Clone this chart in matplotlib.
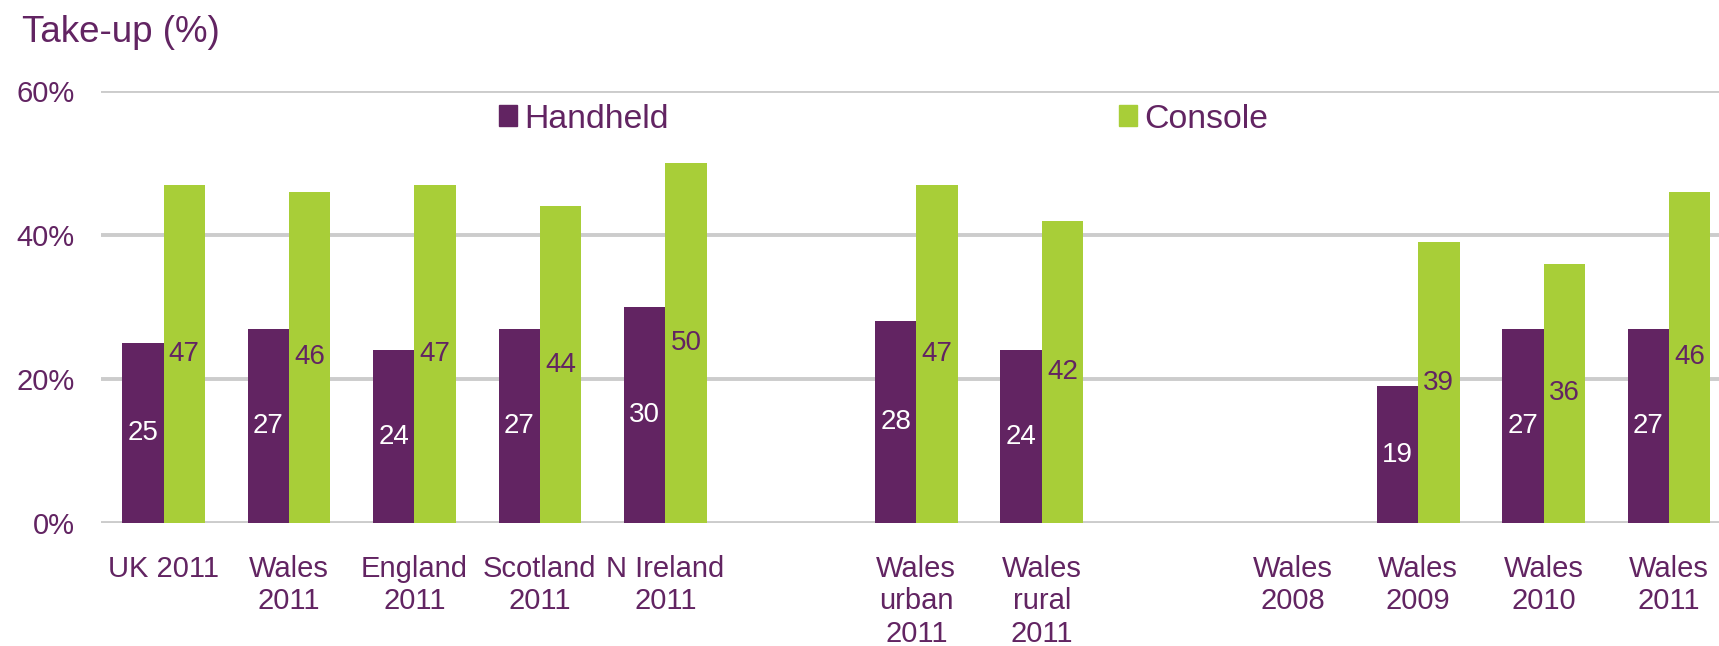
import numpy as np
import matplotlib.pyplot as plt
from matplotlib.patches import Patch

plt.rcParams["font.family"] = ["Liberation Sans", "DejaVu Sans"]

categories = ["UK 2011", "Wales\n2011", "England\n2011", "Scotland\n2011", "N Ireland\n2011", "",
              "Wales\nurban\n2011", "Wales\nrural\n2011", "",
              "Wales\n2008", "Wales\n2009", "Wales\n2010", "Wales\n2011"]
handheld = [25, 27, 24, 27, 30, np.nan, 28, 24, np.nan, np.nan, 19, 27, 27]
console = [47, 46, 47, 44, 50, np.nan, 47, 42, np.nan, np.nan, 39, 36, 46]
yticks = [0, 20, 40, 60]

PURPLE = "#622462"
GREEN = "#A8CE38"
GRID = "#CCCCCC"

W, H = 1719, 646
fig = plt.figure(figsize=(W / 100, H / 100), dpi=100)
ax = fig.add_axes([100.8 / W, (H - 523) / H, 1631 / W, 432 / H])

x = np.arange(len(categories))
bw = 0.33
b1 = ax.bar(x - bw / 2, handheld, bw, color=PURPLE, zorder=3)
b2 = ax.bar(x + bw / 2, console, bw, color=GREEN, zorder=3)

def fmt(vals):
    return ["" if np.isnan(v) else f"{v:.0f}" for v in vals]

ax.bar_label(b1, labels=fmt(handheld), label_type="center", color="white", fontsize=20)
ax.bar_label(b2, labels=fmt(console), label_type="center", color=PURPLE, fontsize=20)

ax.set_xlim(-0.5, len(categories) - 0.5)
ax.set_ylim(0, 60)
ax.set_yticks(yticks)
ax.set_yticklabels([f"{t}%" for t in yticks])
ax.set_xticks(x)
ax.set_xticklabels(categories, linespacing=1.2)
ax.tick_params(axis="both", length=0, labelsize=21, labelcolor=PURPLE)
ax.tick_params(axis="y", pad=19)
ax.tick_params(axis="x", pad=23)
for t in yticks:
    ax.axhline(t, color=GRID, lw=2.8, zorder=1)
for s in ax.spines.values():
    s.set_visible(False)

handles = [Patch(color=PURPLE, label="Handheld"), Patch(color=GREEN, label="Console")]
ax.legend(handles=handles, ncol=2, loc="center left", bbox_to_anchor=(398 / 1631, (523 - 119) / 432),
          frameon=False, fontsize=24.3, labelcolor=PURPLE, handlelength=0.55, handleheight=0.55,
          handletextpad=0.2, columnspacing=13.34, borderpad=0, borderaxespad=0)

fig.text(22 / W, 1 - 42 / H, "Take-up (%)", fontsize=26.5, color=PURPLE, va="baseline", ha="left")

fig.savefig("out.png", dpi=100)
